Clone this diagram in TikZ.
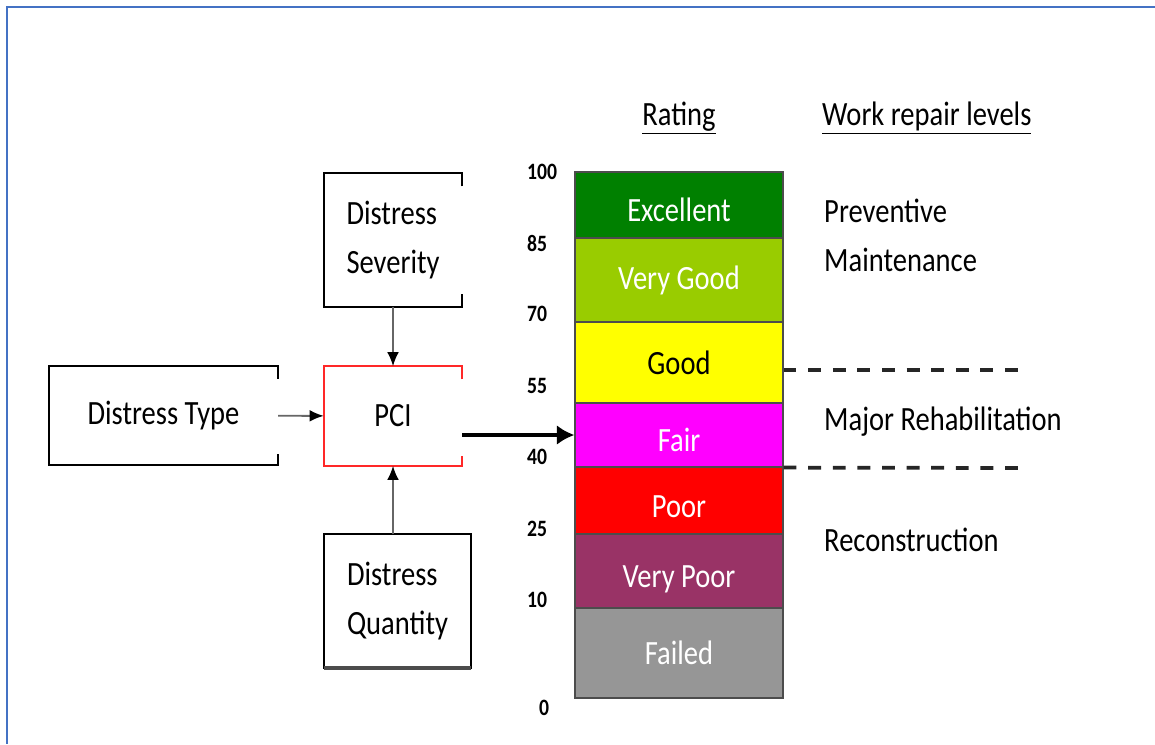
\documentclass[tikz,border=0pt]{standalone}
\usepackage{fontspec}
\setmainfont{Carlito}[FakeStretch=0.84]
\usetikzlibrary{arrows.meta}
\definecolor{frameblue}{RGB}{68,114,196}
\definecolor{excgreen}{RGB}{0,128,0}
\definecolor{vggreen}{RGB}{153,204,0}
\definecolor{goodyellow}{RGB}{255,255,0}
\definecolor{fairpink}{RGB}{255,0,255}
\definecolor{poorred}{RGB}{255,0,0}
\definecolor{vpplum}{RGB}{153,51,102}
\definecolor{failgray}{RGB}{150,150,150}
\definecolor{pcired}{RGB}{255,40,40}
\begin{document}
\begin{tikzpicture}[x=0.03cm,y=-0.03cm,
    txt/.style={font=\fontsize{29}{42}\selectfont, inner sep=0pt},
    box/.style={txt, align=left},
    band/.style={draw=black!70, line width=1pt, minimum width=6.24cm, inner sep=0pt, text=white, font=\fontsize{29}{34}\selectfont},
    low/.style={text height=1.2cm, text depth=0.2cm},
    num/.style={font=\fontsize{20}{24}\selectfont\bfseries, inner sep=0pt, anchor=west},
    feed/.style={draw=black!60, line width=1.6pt, -{Latex[color=black,length=12pt,width=10pt]}},
    dashline/.style={line width=3.2pt, dash pattern=on 11pt off 10pt, black!85}]
                \useasboundingbox (0,0) rectangle (1155,744);
                \draw[frameblue, line width=1.5pt] (1155,7) -- (7,7) -- (7,744);
                % input boxes
                \node[box, minimum width=4.14cm, minimum height=3.99cm] (sev) at (393,240) {Distress\\Severity};
                \node[box, minimum width=4.14cm, minimum height=2.97cm] (pci) at (393,416) {PCI};
                \node[box, minimum width=6.87cm, minimum height=2.97cm] (type) at (163.5,415.5) {Distress Type};
                \node[box, minimum width=4.41cm, minimum height=3.99cm] (qty) at (397.5,601) {Distress\\Quantity};
                \draw[line width=2pt] ([yshift=-0.39cm]sev.north east) -- (sev.north east) -- (sev.north west) -- (sev.south west) -- (sev.south east) -- ([yshift=0.39cm]sev.south east);
                \draw[pcired, line width=1.8pt] ([yshift=-0.39cm]pci.north east) -- (pci.north east) -- (pci.north west) -- (pci.south west) -- (pci.south east) -- ([yshift=0.3cm]pci.south east);
                \draw[line width=2pt] ([yshift=-0.39cm]type.north east) -- (type.north east) -- (type.north west) -- (type.south west) -- (type.south east) -- ([yshift=0.33cm]type.south east);
                \draw[line width=2pt] (qty.south west) rectangle (qty.north east);
                \draw[line width=3.5pt, black!70] (qty.south west) -- (qty.south east);
                \draw[feed] (sev) -- (pci);
                \draw[feed] (pci.south |- qty.north) -- (pci.south);
                \draw[feed] (type) -- (pci);
                % rating bar
                \node[band, low, fill=excgreen, minimum height=1.98cm] (exc) at (679,205) {Excellent};
                \node[band, fill=vggreen, minimum height=2.52cm] (vgood) at (679,280) {Very Good};
                \node[band, fill=goodyellow, text=black, minimum height=2.43cm] (good) at (679,362.5) {Good};
                \node[band, low, fill=fairpink, minimum height=1.92cm] (fair) at (679,435) {Fair};
                \node[band, low, fill=poorred, minimum height=2.01cm] (poor) at (679,500.5) {Poor};
                \node[band, low, fill=vpplum, minimum height=2.22cm] (vpoor) at (679,571) {Very Poor};
                \node[band, fill=failgray, minimum height=2.7cm] (failed) at (679,653) {Failed};
                \draw[line width=4pt, -{Latex[length=15pt,width=17pt]}] (pci.east |- fair.west) -- (fair.west);
                % scale
                \node[num] (n100) at (527,172) {100};
                \node[num] (n85) at (527,243) {85};
                \node[num] (n70) at (527,314) {70};
                \node[num] (n55) at (527,386) {55};
                \node[num] (n40) at (527,457) {40};
                \node[num] (n25) at (527,529) {25};
                \node[num] (n10) at (527,600) {10};
                \node[num] (n0) at (539,708) {0};
                % headings and repair levels
                \node[txt] (rating) at (679,118) {\underline{Rating}};
                \node[txt, anchor=west] (work) at (822,118) {\underline{Work repair levels}};
                \node[txt, anchor=west, align=left] (prev) at (824,235) {Preventive\\Maintenance};
                \node[txt, anchor=west] (major) at (824,422) {Major Rehabilitation};
                \node[txt, anchor=west] (recon) at (824,540) {Reconstruction};
                \coordinate (dUp) at (1025,370);
                \coordinate (dLow) at (1025,468);
                \draw[dashline] (good.east |- dUp) -- (dUp);
                \draw[dashline] (fair.south east) -- (dLow);
\end{tikzpicture}
\end{document}
